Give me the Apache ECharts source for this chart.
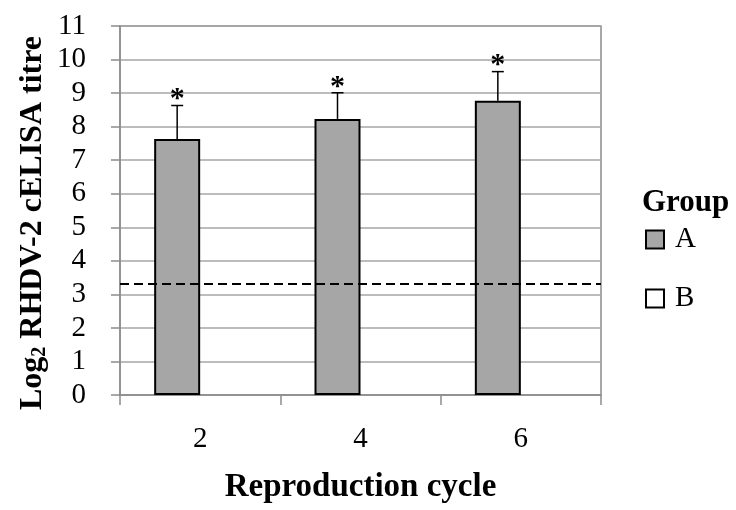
<!DOCTYPE html>
<html>
<head>
<meta charset="utf-8">
<script src="https://cdn.jsdelivr.net/npm/echarts@6/dist/echarts.min.js"></script>
<style>
  html, body { margin: 0; padding: 0; background: #fff; }
  #main { width: 736px; height: 510px; }
</style>
</head>
<body>
<div id="main"></div>
<script>
// data
var cycles = ['2', '4', '6'];
var titreA = [7.63, 8.23, 8.77];
var errA = [1.0, 0.78, 0.87];
var titreB = [null, null, null];
var cutOff = 3.32;

var FONT = 'Liberation Serif';
var BAR_W = 46;

var chart = echarts.init(document.getElementById('main'));

var errData = titreA.map(function (v, i) { return [i, v, v + errA[i]]; });

var option = {
    animation: false,
    backgroundColor: '#fff',
    grid: {
        left: 120, right: 135, top: 26, bottom: 115,
        outerBoundsMode: 'none',
        containLabel: false,
        show: true, borderColor: '#8c8c8c', borderWidth: 1.5
    },
    legend: {
        orient: 'vertical',
        left: 640, top: 220,
        itemWidth: 18, itemHeight: 18,
        itemGap: 30,
        icon: 'rect',
        data: ['A', 'B'],
        textStyle: { fontFamily: FONT, fontSize: 29, color: '#000', padding: [0, 0, 0, 6] }
    },
    graphic: [{
        type: 'text', left: 642, top: 187,
        style: { text: 'Group', font: 'bold 31px "Liberation Serif"', fill: '#000' }
    }, {
        // y axis title, placed like the original (slightly below the plot centre)
        type: 'text',
        x: 33, y: 223,
        rotation: Math.PI / 2,
        style: {
            text: '{b|Log}{s|2}{b| RHDV-2 cELISA titre}',
            align: 'center', verticalAlign: 'middle',
            rich: {
                b: { fontFamily: FONT, fontWeight: 'bold', fontSize: 32, fill: '#000' },
                s: { fontFamily: FONT, fontWeight: 'bold', fontSize: 20, fill: '#000', verticalAlign: 'bottom', padding: [13, 0, 0, 0] }
            }
        }
    }],
    xAxis: {
        type: 'category',
        data: cycles,
        name: 'Reproduction cycle',
        nameLocation: 'middle',
        nameGap: 76,
        nameTextStyle: { fontFamily: FONT, fontWeight: 'bold', fontSize: 33, color: '#000' },
        axisLine: { lineStyle: { color: '#8c8c8c', width: 1.5 } },
        axisTick: { show: true, alignWithLabel: false, length: 10, lineStyle: { color: '#8c8c8c', width: 1.5 } },
        axisLabel: { fontFamily: FONT, fontSize: 29, color: '#000', margin: 30 }
    },
    yAxis: {
        type: 'value',
        min: 0, max: 11, interval: 1,
        axisLine: { show: true, lineStyle: { color: '#8c8c8c', width: 1.5 } },
        axisTick: { show: true, length: 9, lineStyle: { color: '#8c8c8c', width: 1.5 } },
        axisLabel: { fontFamily: FONT, fontSize: 29, color: '#000', margin: 34 },
        splitLine: { lineStyle: { color: '#a6a6a6', width: 1.5 } }
    },
    series: [{
        name: 'A',
        type: 'bar',
        data: titreA,
        barWidth: BAR_W,
        barGap: '0%',
        itemStyle: { color: '#a6a6a6', borderColor: '#000', borderWidth: 2 },
        markLine: {
            silent: true,
            symbol: ['none', 'none'],
            label: { show: false },
            lineStyle: { color: '#000', type: [9, 5], width: 2 },
            data: [{ yAxis: cutOff }]
        }
    }, {
        name: 'B',
        type: 'bar',
        data: titreB,
        barWidth: BAR_W,
        itemStyle: { color: '#fff', borderColor: '#000', borderWidth: 1.5 }
    }, {
        name: 'err',
        type: 'custom',
        z: 5,
        data: errData,
        encode: { x: 0, y: [1, 2] },
        renderItem: function (params, api) {
            var lo = api.coord([api.value(0), api.value(1)]);
            var hi = api.coord([api.value(0), api.value(2)]);
            var x = lo[0] - BAR_W / 2;
            return {
                type: 'group',
                children: [{
                    type: 'line',
                    shape: { x1: x, y1: lo[1], x2: x, y2: hi[1] },
                    style: { stroke: '#000', lineWidth: 1.5 }
                }, {
                    type: 'line',
                    shape: { x1: x - 6, y1: hi[1], x2: x + 6, y2: hi[1] },
                    style: { stroke: '#000', lineWidth: 1.5 }
                }, {
                    type: 'text',
                    x: x, y: hi[1] + 9,
                    style: {
                        text: '*', font: 'bold 30px "Liberation Serif"', fill: '#000',
                        align: 'center', verticalAlign: 'bottom'
                    }
                }]
            };
        }
    }]
};

chart.setOption(option);
</script>
</body>
</html>
